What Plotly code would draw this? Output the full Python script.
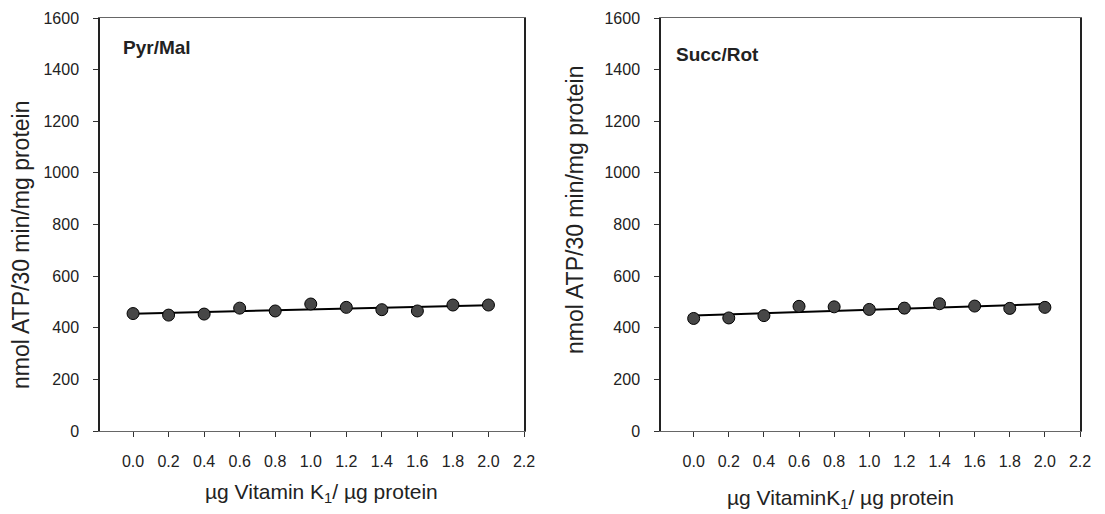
import numpy as np
import plotly.graph_objects as go

# ---- data ----
dose = [0.0, 0.2, 0.4, 0.6, 0.8, 1.0, 1.2, 1.4, 1.6, 1.8, 2.0]
pyr_mal = [455, 449, 453, 476, 465, 492, 479, 470, 465, 488, 488]
pyr_mal_err = [6, 6, 6, 8, 6, 14, 8, 6, 6, 18, 6]
succ_rot = [436, 438, 447, 483, 481, 471, 476, 493, 484, 475, 479]
succ_rot_err = [6, 6, 10, 8, 8, 8, 20, 8, 10, 20, 8]
x_ticks = [0.0, 0.2, 0.4, 0.6, 0.8, 1.0, 1.2, 1.4, 1.6, 1.8, 2.0, 2.2]
y_ticks = [0, 200, 400, 600, 800, 1000, 1200, 1400, 1600]
panel_titles = ["Pyr/Mal", "Succ/Rot"]
x_titles = ["µg Vitamin K<sub>1</sub>/ µg protein", "µg VitaminK<sub>1</sub>/ µg protein"]
y_title = "nmol ATP/30 min/mg protein"

FONT = "Liberation Sans, Arial, sans-serif"
W, H = 1105, 514
OFF_X = 8  # page body margin offset
OFF_Y = 6

fig = go.Figure()

series = [(pyr_mal, pyr_mal_err), (succ_rot, succ_rot_err)]
for i, (vals, err) in enumerate(series):
    xa = "x" if i == 0 else "x2"
    ya = "y" if i == 0 else "y2"
    slope, icpt = np.polyfit(dose, vals, 1)
    fit_x = [dose[0], dose[-1]]
    fit_y = [icpt + slope * v for v in fit_x]
    fig.add_trace(go.Scatter(x=fit_x, y=fit_y, mode="lines",
                             line=dict(color="black", width=2),
                             xaxis=xa, yaxis=ya, showlegend=False, hoverinfo="skip"))
    fig.add_trace(go.Scatter(x=dose, y=vals, mode="markers",
                             error_y=dict(type="data", array=err, color="black",
                                          thickness=1, width=3),
                             marker=dict(size=12, color="#474747",
                                         line=dict(color="black", width=1)),
                             xaxis=xa, yaxis=ya, showlegend=False))

def px_x(p):
    return (p - OFF_X) / W

def px_y(p):
    return 1 - (p - OFF_Y) / H

xdoms = [[px_x(100), px_x(524)], [px_x(661), px_x(1080)]]
ydom = [px_y(429), px_y(16)]

axis_common_x = dict(range=[-0.186, 2.2], tickvals=x_ticks,
                     ticktext=[f"{v:.1f}" for v in x_ticks],
                     ticks="outside", ticklen=5, tickcolor="#333",
                     showline=True, linecolor="#666", linewidth=1, mirror=True,
                     showgrid=False, zeroline=False, ticklabelstandoff=11,
                     automargin=False, ticklabeloverflow="allow",
                     tickfont=dict(family=FONT, size=16, color="#222"))
axis_common_y = dict(range=[0, 1600], tickvals=y_ticks,
                     ticks="outside", ticklen=5, tickcolor="#333",
                     showline=True, linecolor="#222", linewidth=1.5, mirror=True,
                     showgrid=False, zeroline=False, ticklabelstandoff=11,
                     automargin=False, ticklabeloverflow="allow",
                     tickfont=dict(family=FONT, size=16, color="#222"))

fig.update_layout(
    width=W, height=H,
    margin=dict(l=0, r=0, t=0, b=0, pad=0),
    paper_bgcolor="white", plot_bgcolor="white",
    font=dict(family=FONT, color="#222"),
    xaxis=dict(domain=xdoms[0], anchor="y", **axis_common_x),
    yaxis=dict(domain=ydom, anchor="x", **axis_common_y),
    xaxis2=dict(domain=xdoms[1], anchor="y2", **axis_common_x),
    yaxis2=dict(domain=ydom, anchor="x2", **axis_common_y),
)

annots = [
    dict(text="<b>" + panel_titles[0] + "</b>", x=px_x(121), y=px_y(46), xanchor="left", yanchor="middle",
         font=dict(size=19)),
    dict(text="<b>" + panel_titles[1] + "</b>", x=px_x(674), y=px_y(52), xanchor="left", yanchor="middle",
         font=dict(size=19)),
    dict(text=x_titles[0], x=px_x(321), y=px_y(491), xanchor="center", yanchor="middle",
         font=dict(size=21)),
    dict(text=x_titles[1], x=px_x(840), y=px_y(497), xanchor="center", yanchor="middle",
         font=dict(size=21)),
    dict(text=y_title, x=px_x(21), y=px_y(243), xanchor="center", yanchor="middle",
         textangle=-90, font=dict(size=23)),
    dict(text=y_title, x=px_x(575), y=px_y(208), xanchor="center", yanchor="middle",
         textangle=-90, font=dict(size=23)),
]
for a in annots:
    a.update(xref="paper", yref="paper", showarrow=False)
    a["font"].update(family=FONT, color="#222")
fig.update_layout(annotations=annots)

fig.write_html("out.html")
